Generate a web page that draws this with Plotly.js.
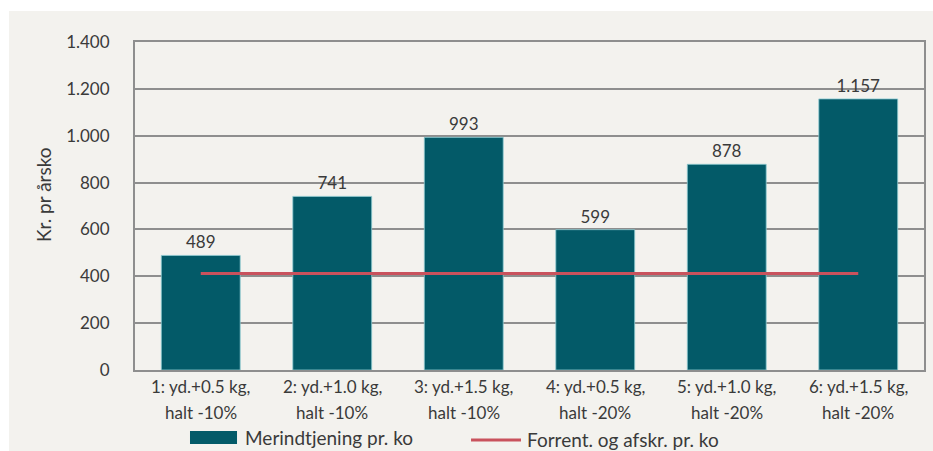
<!DOCTYPE html>
<html>
<head>
<meta charset="utf-8">
<script src="https://cdn.plot.ly/plotly-3.0.1.min.js"></script>
<style>
  html, body { margin: 0; padding: 0; background: #ffffff; }
  #chart { position: absolute; left: 9px; top: 11px; width: 924px; height: 440px; }
</style>
</head>
<body>
<div id="chart"></div>
<script>
// ---- data ----
var categories = ["c1", "c2", "c3", "c4", "c5", "c6"];
var labelLine1 = ["1: yd.+0.5 kg,", "2: yd.+1.0 kg,", "3: yd.+1.5 kg,", "4: yd.+0.5 kg,", "5: yd.+1.0 kg,", "6: yd.+1.5 kg,"];
var labelLine2 = ["halt -10%", "halt -10%", "halt -10%", "halt -20%", "halt -20%", "halt -20%"];
var merindtjening = [489, 741, 993, 599, 878, 1157];
var forrentAfskr = [412, 412, 412, 412, 412, 412];
var yTickVals = [0, 200, 400, 600, 800, 1000, 1200, 1400];
var seriesNames = ["Merindtjening pr. ko", "Forrent. og afskr. pr. ko"];
var yTitle = "Kr. pr årsko";

// ---- styles ----
var FONT = "Lato, 'Open Sans', sans-serif";
var TXT = "#3a3a3a";
var BAR = "#035a68";
var RED = "#c9525d";
var GRID = "#8e8e8e";
var BG = "#f3f2ee";

var traces = [
  {
    type: "bar",
    x: categories,
    y: merindtjening,
    name: seriesNames[0],
    marker: { color: BAR, line: { color: "#8fcbd2", width: 0.8 } },
    texttemplate: "%{y:,d}",
    textposition: "outside",
    cliponaxis: false,
    textfont: { family: FONT, size: 17, color: TXT },
    hoverinfo: "y"
  },
  {
    type: "scatter",
    mode: "lines",
    x: categories,
    y: forrentAfskr,
    name: seriesNames[1],
    line: { color: RED, width: 3 },
    hoverinfo: "y"
  }
];

var annotations = [];
for (var i = 0; i < categories.length; i++) {
  annotations.push({
    x: i, xref: "x", y: 0, yref: "paper",
    yanchor: "middle", yshift: -16, showarrow: false,
    text: labelLine1[i], font: { family: FONT, size: 17, color: TXT }
  });
  annotations.push({
    x: i, xref: "x", y: 0, yref: "paper",
    yanchor: "middle", yshift: -42, showarrow: false,
    text: labelLine2[i], font: { family: FONT, size: 17, color: TXT }
  });
}
// y-axis title
annotations.push({
  x: 0, xref: "paper", xshift: -92, y: 0.5, yref: "paper", yshift: 11,
  textangle: -90, showarrow: false, xanchor: "center", yanchor: "middle",
  text: yTitle, font: { family: FONT, size: 19, color: TXT }
});
// legend texts
annotations.push({
  x: 0.1369, xref: "paper", y: -0.2058, yref: "paper", xanchor: "left", yanchor: "middle",
  showarrow: false, text: seriesNames[0], font: { family: FONT, size: 19, color: TXT }
});
annotations.push({
  x: 0.4943, xref: "paper", y: -0.2134, yref: "paper", xanchor: "left", yanchor: "middle",
  showarrow: false, text: seriesNames[1], font: { family: FONT, size: 19, color: TXT }
});

var shapes = [
  { type: "rect", xref: "paper", yref: "paper", x0: 0.0697, x1: 0.1293, y0: -0.2256, y1: -0.186,
    fillcolor: BAR, line: { width: 0 } },
  { type: "line", xref: "paper", yref: "paper", x0: 0.4259, x1: 0.4892, y0: -0.2134, y1: -0.2134,
    line: { color: RED, width: 3 } }
];

var layout = {
  width: 924, height: 440,
  margin: { l: 126, r: 9, t: 31, b: 81, pad: 0 },
  paper_bgcolor: BG,
  plot_bgcolor: BG,
  separators: ",.",
  showlegend: false,
  bargap: 0.4,
  font: { family: FONT, size: 17, color: TXT },
  xaxis: {
    type: "category",
    showticklabels: false,
    ticks: "",
    showgrid: false,
    showline: true, mirror: true, linecolor: GRID, linewidth: 2,
    zeroline: false
  },
  yaxis: {
    range: [0, 1400],
    tickvals: yTickVals,
    tickformat: ",d",
    ticks: "outside", ticklen: 20, tickcolor: "rgba(0,0,0,0)",
    tickfont: { family: FONT, size: 17, color: TXT },
    showgrid: true, gridcolor: GRID, gridwidth: 2,
    showline: true, mirror: true, linecolor: GRID, linewidth: 2,
    zeroline: false
  },
  annotations: annotations,
  shapes: shapes
};

Plotly.newPlot("chart", traces, layout, { displayModeBar: false, staticPlot: true });
</script>
</body>
</html>
